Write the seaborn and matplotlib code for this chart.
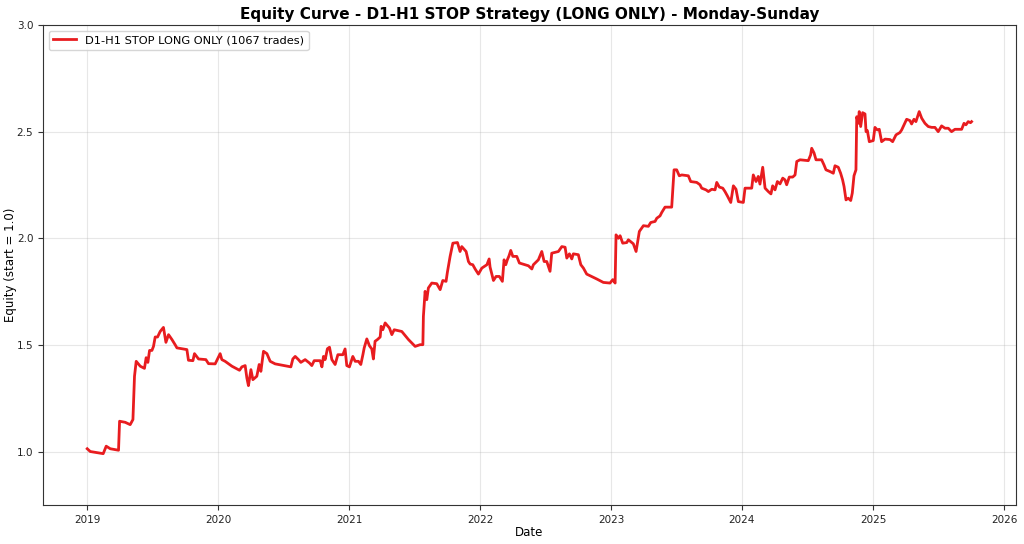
import pandas as pd
import numpy as np
import seaborn as sns
import matplotlib.pyplot as plt

# Equity curve (years after 2019-01-01, equity)
years_2019_2021 = [0.000, 0.023, 0.122, 0.145, 0.176, 0.239, 0.247, 0.290, 0.328, 0.349,
                   0.361, 0.374, 0.405, 0.437, 0.450, 0.463, 0.476, 0.494, 0.506, 0.519,
                   0.537, 0.557, 0.582, 0.601, 0.621, 0.647, 0.672, 0.685, 0.761, 0.773,
                   0.807, 0.819, 0.850, 0.906, 0.926, 0.977, 1.015, 1.028, 1.053, 1.105,
                   1.163, 1.181, 1.206, 1.219, 1.231, 1.250, 1.265, 1.295, 1.313, 1.326,
                   1.346, 1.372, 1.397, 1.435, 1.555, 1.570, 1.588, 1.613, 1.631, 1.664,
                   1.697, 1.715, 1.733, 1.779, 1.792, 1.804, 1.817, 1.834, 1.850, 1.868,
                   1.893, 1.914, 1.952, 1.969, 1.982, 2.002, 2.028, 2.046]
equity_2019_2021 = [1.013, 1.000, 0.990, 1.025, 1.013, 1.006, 1.142, 1.137, 1.126, 1.150,
                    1.353, 1.423, 1.400, 1.390, 1.440, 1.418, 1.474, 1.474, 1.493, 1.537,
                    1.537, 1.563, 1.582, 1.512, 1.548, 1.525, 1.500, 1.486, 1.478, 1.428,
                    1.426, 1.459, 1.434, 1.431, 1.412, 1.411, 1.459, 1.431, 1.423, 1.400,
                    1.381, 1.397, 1.403, 1.345, 1.309, 1.384, 1.337, 1.353, 1.408, 1.376,
                    1.470, 1.459, 1.423, 1.411, 1.397, 1.434, 1.446, 1.431, 1.418, 1.431,
                    1.415, 1.403, 1.426, 1.426, 1.397, 1.446, 1.431, 1.482, 1.489, 1.431,
                    1.408, 1.454, 1.454, 1.481, 1.403, 1.397, 1.446, 1.423]

years_2021_2023 = [2.071, 2.089, 2.105, 2.115, 2.135, 2.155, 2.173, 2.185, 2.198, 2.216,
                   2.237, 2.244, 2.257, 2.275, 2.308, 2.326, 2.344, 2.402, 2.453, 2.504,
                   2.542, 2.563, 2.567, 2.580, 2.593, 2.605, 2.631, 2.669, 2.695, 2.715,
                   2.740, 2.750, 2.771, 2.792, 2.827, 2.847, 2.860, 2.893, 2.911, 2.924,
                   2.944, 2.962, 2.987, 3.013, 3.052, 3.069, 3.076, 3.102, 3.122, 3.147,
                   3.170, 3.183, 3.196, 3.208, 3.221, 3.234, 3.250, 3.280, 3.300, 3.369,
                   3.395, 3.407, 3.445, 3.471, 3.489, 3.509, 3.534, 3.547, 3.598, 3.624,
                   3.649, 3.662, 3.682, 3.700, 3.712, 3.750, 3.769, 3.789, 3.814, 3.891,
                   3.941, 3.992, 4.013, 4.031]
equity_2021_2023 = [1.423, 1.408, 1.454, 1.486, 1.528, 1.496, 1.481, 1.434, 1.517, 1.525,
                    1.537, 1.587, 1.571, 1.603, 1.579, 1.548, 1.571, 1.563, 1.525, 1.493,
                    1.501, 1.501, 1.634, 1.751, 1.712, 1.767, 1.790, 1.787, 1.759, 1.802,
                    1.798, 1.840, 1.915, 1.977, 1.980, 1.938, 1.961, 1.938, 1.891, 1.879,
                    1.876, 1.856, 1.832, 1.860, 1.876, 1.903, 1.865, 1.802, 1.821, 1.821,
                    1.798, 1.899, 1.876, 1.899, 1.918, 1.943, 1.915, 1.915, 1.884, 1.871,
                    1.856, 1.876, 1.899, 1.938, 1.891, 1.891, 1.845, 1.930, 1.938, 1.961,
                    1.958, 1.907, 1.927, 1.903, 1.927, 1.923, 1.876, 1.860, 1.832, 1.809,
                    1.793, 1.790, 1.806, 1.790]

years_2023_2025 = [4.038, 4.056, 4.069, 4.089, 4.120, 4.132, 4.170, 4.191, 4.216, 4.247,
                   4.285, 4.303, 4.336, 4.349, 4.374, 4.387, 4.412, 4.463, 4.481, 4.501,
                   4.521, 4.540, 4.590, 4.608, 4.654, 4.679, 4.692, 4.725, 4.743, 4.769,
                   4.794, 4.807, 4.827, 4.853, 4.870, 4.888, 4.914, 4.934, 4.954, 4.972,
                   5.010, 5.023, 5.074, 5.086, 5.107, 5.124, 5.137, 5.158, 5.176, 5.201,
                   5.221, 5.234, 5.252, 5.270, 5.290, 5.311, 5.328, 5.341, 5.361, 5.387,
                   5.405, 5.418, 5.443, 5.506, 5.524, 5.532, 5.550, 5.565, 5.608, 5.626,
                   5.641, 5.672, 5.697, 5.710, 5.735, 5.753, 5.768, 5.779, 5.794, 5.811,
                   5.830, 5.842, 5.855, 5.870, 5.876, 5.888, 5.895, 5.906, 5.921, 5.939,
                   5.947, 5.957, 5.972, 6.002, 6.015, 6.033, 6.048, 6.066, 6.092, 6.130,
                   6.150, 6.176, 6.206, 6.219, 6.237, 6.257, 6.282, 6.295, 6.313, 6.328,
                   6.353, 6.372, 6.397, 6.422, 6.448, 6.473, 6.498, 6.524, 6.550, 6.575,
                   6.600, 6.626, 6.677, 6.695, 6.710, 6.727, 6.745, 6.753]
equity_2023_2025 = [2.016, 2.000, 2.012, 1.977, 1.980, 1.993, 1.974, 1.938, 2.032, 2.059,
                    2.056, 2.074, 2.079, 2.094, 2.105, 2.121, 2.146, 2.146, 2.321, 2.321,
                    2.293, 2.297, 2.293, 2.266, 2.262, 2.251, 2.235, 2.227, 2.219, 2.230,
                    2.227, 2.262, 2.240, 2.235, 2.219, 2.199, 2.168, 2.246, 2.230, 2.172,
                    2.168, 2.235, 2.235, 2.297, 2.266, 2.290, 2.254, 2.333, 2.235, 2.219,
                    2.208, 2.246, 2.227, 2.266, 2.255, 2.282, 2.274, 2.251, 2.287, 2.287,
                    2.297, 2.360, 2.368, 2.364, 2.391, 2.422, 2.400, 2.368, 2.368, 2.344,
                    2.321, 2.313, 2.305, 2.340, 2.333, 2.305, 2.274, 2.243, 2.180, 2.188,
                    2.177, 2.212, 2.293, 2.321, 2.570, 2.539, 2.594, 2.524, 2.589, 2.583,
                    2.500, 2.505, 2.453, 2.458, 2.520, 2.508, 2.511, 2.453, 2.465, 2.463,
                    2.453, 2.485, 2.496, 2.508, 2.532, 2.558, 2.552, 2.536, 2.558, 2.547,
                    2.594, 2.563, 2.539, 2.524, 2.520, 2.520, 2.500, 2.527, 2.516, 2.516,
                    2.500, 2.511, 2.511, 2.539, 2.532, 2.547, 2.542, 2.547]

n_trades = 1067
label = f"D1-H1 STOP LONG ONLY ({n_trades} trades)"

years = np.array(years_2019_2021 + years_2021_2023 + years_2023_2025)
equity = np.array(equity_2019_2021 + equity_2021_2023 + equity_2023_2025)
dates = pd.Timestamp("2019-01-01") + pd.to_timedelta(years * 365.25, unit="D")
df = pd.DataFrame({"date": dates, "equity": equity})

fig, ax = plt.subplots(figsize=(10.24, 5.44), dpi=100)
sns.lineplot(data=df, x="date", y="equity", ax=ax, color="#e81c1f",
             linewidth=2.0, label=label, sort=False)

ax.set_ylim(0.75, 3.0)
ax.set_yticks([1.0, 1.5, 2.0, 2.5, 3.0])
ax.grid(True, alpha=0.3)
ax.set_title("Equity Curve - D1-H1 STOP Strategy (LONG ONLY) - Monday-Sunday",
             fontsize=11, fontweight="bold", pad=4)
ax.set_xlabel("Date", fontsize=8.5, labelpad=1)
ax.set_ylabel("Equity (start = 1.0)", fontsize=8.5)
ax.yaxis.set_label_coords(-0.027, 0.5)
ax.tick_params(labelsize=7.5, colors="#333333", labelcolor="#222222")
for s in ax.spines.values():
    s.set_color("#333333")
ax.legend(loc="upper left", fontsize=8.2)

plt.subplots_adjust(left=0.042, right=0.992, top=0.954, bottom=0.072)
plt.savefig("out.png", dpi=100)
